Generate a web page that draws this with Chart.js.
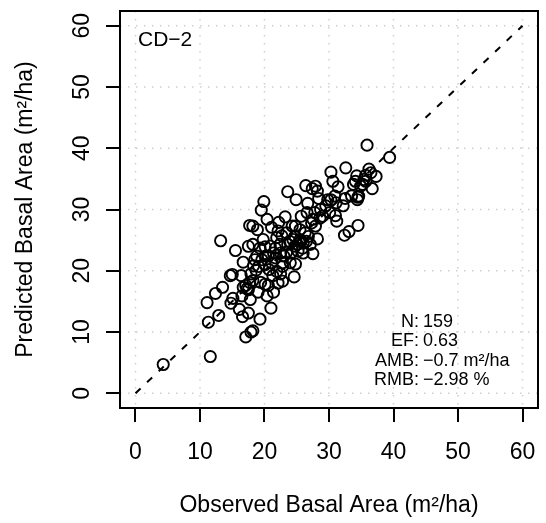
<!DOCTYPE html>
<html>
<head>
<meta charset="utf-8">
<script src="https://cdn.jsdelivr.net/npm/chart.js@4"></script>
<style>
  html, body { margin: 0; padding: 0; background: #fff; }
  #wrap { width: 546px; height: 523px; }
</style>
</head>
<body>
<div id="wrap"><canvas id="c1" width="546" height="523"></canvas></div>
<script>
// --- DATA --- //
const tickValues = [0, 10, 20, 30, 40, 50, 60];
const observed = [
  4.3, 11.6, 11.3, 12.9, 11.1, 12.4, 13.5, 13.2, 14.8, 15.1,
  14.7, 15.0, 15.5, 16.1, 16.5, 16.6, 16.4, 16.7, 17.1, 17.5,
  17.9, 18.2, 19.3, 16.7, 17.1, 17.7, 18.2, 17.5, 17.7, 18.2,
  18.9, 18.2, 17.8, 17.5, 18.5, 18.8, 18.3, 19.1, 19.0, 19.4,
  19.5, 19.9, 19.8, 20.4, 20.1, 20.2, 20.4, 20.6, 21.0, 21.4,
  20.7, 21.1, 21.4, 21.7, 21.1, 22.2, 22.1, 21.9, 22.4, 22.5,
  22.8, 21.9, 22.5, 22.1, 22.8, 23.2, 23.6, 23.4, 23.9, 23.4,
  24.0, 24.6, 24.8, 24.9, 24.8, 24.7, 24.7, 25.1, 25.5, 25.2,
  25.6, 25.9, 25.7, 26.0, 26.3, 26.4, 26.7, 26.6, 26.8, 27.1,
  27.5, 27.4, 27.9, 28.2, 27.5, 27.9, 28.2, 27.8, 28.4, 28.7,
  29.0, 29.5, 30.1, 30.3, 30.6, 30.3, 30.9, 31.1, 31.0, 31.2,
  31.4, 32.2, 32.5, 32.6, 32.4, 33.1, 33.5, 33.8, 34.1, 34.3,
  34.4, 34.6, 34.5, 34.9, 35.2, 35.4, 35.7, 35.9, 36.2, 36.5,
  36.7, 37.3, 39.4, 34.5, 35.7, 20.1, 20.6, 20.9, 21.7, 23.0,
  23.6, 24.1, 24.4, 25.5, 26.0, 26.5, 20.1, 18.7, 19.6, 21.3,
  19.3, 22.7, 24.3, 27.3, 28.6, 29.8, 17.3, 17.9, 22.8
];
const predicted = [
  4.7, 6.0, 11.6, 12.7, 14.8, 16.3, 17.3, 24.9, 14.7, 15.5,
  19.2, 19.4, 23.3, 13.7, 15.9, 12.5, 19.2, 21.4, 9.2, 13.1,
  10.0, 10.2, 12.1, 17.3, 17.6, 18.1, 18.4, 24.0, 27.4, 27.3,
  26.7, 24.3, 15.3, 16.9, 21.8, 22.4, 20.8, 20.7, 16.5, 18.1,
  29.9, 31.3, 25.1, 28.4, 23.9, 22.4, 15.9, 17.6, 13.9, 16.5,
  20.2, 21.3, 22.9, 23.7, 27.1, 27.9, 26.5, 25.4, 24.3, 22.9,
  21.3, 19.9, 19.5, 18.0, 18.3, 28.8, 32.9, 26.2, 24.8, 23.0,
  21.3, 19.0, 21.1, 31.6, 27.3, 25.6, 24.0, 24.3, 26.7, 23.2,
  24.8, 23.7, 28.9, 22.9, 26.2, 33.9, 31.0, 29.5, 25.6, 24.3,
  22.8, 33.4, 33.8, 33.0, 28.4, 27.3, 25.2, 29.5, 31.8, 30.0,
  28.9, 30.6, 29.5, 36.1, 34.6, 31.6, 32.2, 31.1, 29.0, 28.1,
  33.7, 30.6, 31.8, 36.8, 25.8, 26.4, 32.2, 34.1, 34.6, 35.5,
  31.6, 32.2, 27.4, 33.8, 34.1, 34.9, 35.6, 40.5, 36.6, 36.0,
  33.4, 35.4, 38.5, 32.0, 34.6, 21.0, 22.4, 24.0, 22.1, 22.4,
  24.3, 22.9, 25.1, 25.1, 24.5, 24.8, 17.8, 20.1, 21.8, 19.2,
  23.7, 25.7, 27.3, 27.8, 28.6, 31.6, 17.1, 19.5, 20.7
];
const statLabels = ["N:", "EF:", "AMB:", "RMB:"];
const statValues = ["159", "0.63", "\u22120.7 m\u00b2/ha", "\u22122.98 %"];
const panelLabel = "CD\u22122";
const xTitle = "Observed Basal Area (m\u00b2/ha)";
const yTitle = "Predicted Basal Area (m\u00b2/ha)";

const points = observed.map((x, i) => ({ x: x, y: predicted[i] }));
const FONT = "'Liberation Sans', Arial, sans-serif";

// --- R-style frame, grid, ticks and text --- //
const rStyle = {
  id: "rStyle",
  beforeDatasetsDraw(chart) {
    const { ctx, chartArea: a, scales: { x, y } } = chart;
    ctx.save();
    ctx.strokeStyle = "#cfcfcf";
    ctx.lineWidth = 1.5;
    ctx.setLineDash([1.5, 6.5]);
    tickValues.forEach((v) => {
      const px = x.getPixelForValue(v);
      ctx.beginPath();
      ctx.moveTo(px, a.top);
      ctx.lineTo(px, a.bottom);
      ctx.stroke();
      const py = y.getPixelForValue(v);
      ctx.beginPath();
      ctx.moveTo(a.left, py);
      ctx.lineTo(a.right, py);
      ctx.stroke();
    });
    ctx.restore();
  },
  afterDraw(chart) {
    const { ctx, chartArea: a, scales: { x, y } } = chart;
    ctx.save();
    ctx.strokeStyle = "#000";
    ctx.lineWidth = 2;
    ctx.strokeRect(a.left, a.top, a.right - a.left, a.bottom - a.top);

    // ticks
    ctx.beginPath();
    tickValues.forEach((v) => {
      const px = Math.round(x.getPixelForValue(v));
      ctx.moveTo(px, a.bottom);
      ctx.lineTo(px, a.bottom + 14);
      const py = Math.round(y.getPixelForValue(v));
      ctx.moveTo(a.left, py);
      ctx.lineTo(a.left - 14, py);
    });
    ctx.stroke();

    // tick labels
    ctx.fillStyle = "#000";
    ctx.font = "23px " + FONT;
    ctx.textAlign = "center";
    ctx.textBaseline = "alphabetic";
    tickValues.forEach((v) => {
      ctx.fillText(String(v), x.getPixelForValue(v), 459);
    });
    tickValues.forEach((v) => {
      ctx.save();
      ctx.translate(88.5, y.getPixelForValue(v));
      ctx.rotate(-Math.PI / 2);
      ctx.fillText(String(v), 0, 0);
      ctx.restore();
    });

    // axis titles
    ctx.fillText(xTitle, (a.left + a.right) / 2, 512);
    ctx.save();
    ctx.translate(32, (a.top + a.bottom) / 2);
    ctx.rotate(-Math.PI / 2);
    ctx.fillText(yTitle, 0, 0);
    ctx.restore();

    // panel label
    ctx.textAlign = "left";
    ctx.font = "21px " + FONT;
    ctx.fillText(panelLabel, 138, 46);

    // stats
    ctx.font = "18px " + FONT;
    const rows = [327, 346, 366, 385];
    statLabels.forEach((lab, i) => {
      ctx.textAlign = "right";
      ctx.fillText(lab, 419, rows[i]);
      ctx.textAlign = "left";
      ctx.fillText(statValues[i], 423, rows[i]);
    });
    ctx.restore();
  },
};

new Chart(document.getElementById("c1"), {
  type: "scatter",
  data: {
    datasets: [
      {
        label: "1:1",
        type: "line",
        data: [
          { x: tickValues[0], y: tickValues[0] },
          { x: tickValues[tickValues.length - 1], y: tickValues[tickValues.length - 1] },
        ],
        borderColor: "#000",
        borderWidth: 2,
        borderDash: [7, 9],
        pointRadius: 0,
        fill: false,
      },
      {
        label: "Basal area",
        data: points,
        backgroundColor: "rgba(0,0,0,0)",
        borderColor: "#000",
        borderWidth: 1.9,
        pointRadius: 5.6,
        pointHoverRadius: 5.6,
      },
    ],
  },
  options: {
    responsive: false,
    animation: false,
    layout: { padding: { top: 11, right: 8, left: 0, bottom: 0 } },
    plugins: { legend: { display: false }, tooltip: { enabled: false } },
    scales: {
      x: {
        type: "linear",
        min: -2.4,
        max: 62.4,
        ticks: { display: false },
        grid: { display: false },
        border: { display: false },
        afterFit: (s) => { s.height = 115; },
      },
      y: {
        type: "linear",
        min: -2.4,
        max: 62.4,
        ticks: { display: false },
        grid: { display: false },
        border: { display: false },
        afterFit: (s) => { s.width = 120; },
      },
    },
  },
  plugins: [rStyle],
});
</script>
</body>
</html>
